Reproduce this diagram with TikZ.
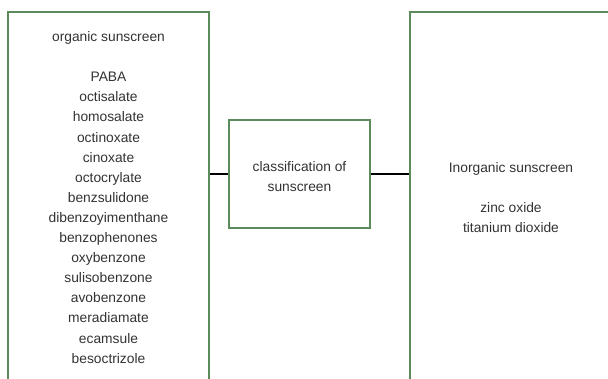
\documentclass[tikz,border=0pt]{standalone}
\usepackage{fontspec}
\setmainfont{Liberation Sans}
\definecolor{boxgreen}{HTML}{5B8B5B}
\definecolor{txtgray}{HTML}{333333}
\begin{document}
\begin{tikzpicture}[x=1pt,y=-1pt,
  box/.style={draw=boxgreen,line width=1.5pt,fill=white,inner sep=0pt,rectangle},
  label/.style={text=txtgray,align=center,inner sep=0pt,anchor=north,font=\fontsize{13.8}{20.1}\selectfont},
  link/.style={draw=black,line width=1.6pt}]
\useasboundingbox (0,0) rectangle (608,378);
\begin{scope}
\clip (0,0) rectangle (608,378);
\node[box,minimum width=201pt,minimum height=382pt] (org) at (108.5,203) {};
\node[box,minimum width=202pt,minimum height=382pt] (inorg) at (511,203) {};
\end{scope}
\node[box,minimum width=141pt,minimum height=108pt] (mid) at (299.5,174) {};
\draw[link] (mid.west) -- (mid.west -| org.east);
\draw[link] (mid.east) -- (mid.east -| inorg.west);
\node[label] (orgtxt) at (108.5,27) {\strut organic sunscreen\\[20.4pt]
PABA\\ octisalate\\ homosalate\\ octinoxate\\ cinoxate\\ octocrylate\\ benzsulidone\\
dibenzoyimenthane\\ benzophenones\\ oxybenzone\\ sulisobenzone\\ avobenzone\\
meradiamate\\ ecamsule\\ besoctrizole};
\node[label] (midtxt) at (299.5,157) {\strut classification of\\ sunscreen};
\node[label] (inorgtxt) at (511,158.5) {\strut Inorganic sunscreen\\[19.5pt] zinc oxide\\ titanium dioxide};
\end{tikzpicture}
\end{document}
